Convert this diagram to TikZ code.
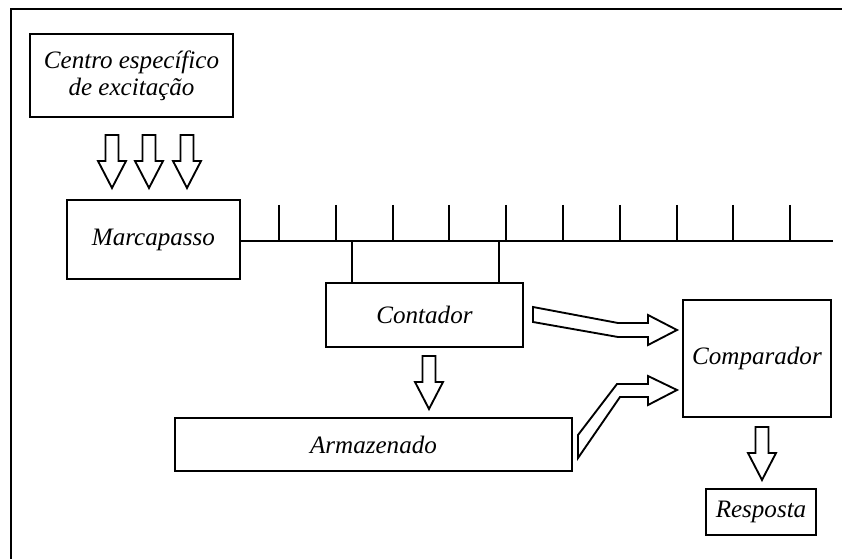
\documentclass[tikz,border=0pt]{standalone}
\usepackage{fontspec}
\setmainfont{Liberation Serif}
\tikzset{
  hollowdown/.pic={\draw[line width=1.4pt,fill=white]
    (-6.5,0) -- (6.5,0) -- (6.5,26) -- (14,26) -- (0,53) -- (-14,26) -- (-6.5,26) -- cycle;}
}
\begin{document}
\begin{tikzpicture}[x=.75pt,y=-.75pt,line width=1.4pt,
  every node/.style={font=\fontsize{18.8}{20}\selectfont\itshape,inner sep=0pt},
  blockbox/.style={draw,line width=1.4pt,align=center},
  hollow/.style={draw,line width=1.4pt,line join=miter,fill=white}]
  \path[use as bounding box] (0,0) rectangle (842,559);
  % frame, only top and left edge show
  \draw (11,559) -- (11,9) -- (842,9);
  \node[blockbox,minimum width=152.25pt,minimum height=62.25pt] (centro) at (131.5,75.5)
    {Centro específico\\de excitação};
  \node[blockbox,minimum width=129.75pt,minimum height=59.25pt] (marca) at (153.5,239.5) {Marcapasso};
  \node[blockbox,minimum width=147.75pt,minimum height=48pt] (cont) at (424.5,315) {Contador};
  \node[blockbox,minimum width=297.75pt,minimum height=39.75pt] (arma) at (373.5,444.5) {Armazenado};
  \node[blockbox,minimum width=111pt,minimum height=87.75pt] (comp) at (757,358.5) {Comparador};
  \node[blockbox,minimum width=82.5pt,minimum height=34.5pt] (resp) at (761,512) {Resposta};
  % pulses
  \coordinate (fim) at (833,241);
  \draw (marca.east |- fim) -- (fim);
  \foreach \tx in {279,336,393,449,506,563,620,677,733,790}
    \draw (\tx,205) -- (\tx,241);
  \coordinate (ga) at (352,241);
  \coordinate (gb) at (499,241);
  \draw (ga) -- (ga |- cont.north);
  \draw (gb) -- (gb |- cont.north);
  % arrows
  \foreach \ax in {112,149,187}
    \pic at (\ax,135) {hollowdown};
  \pic at (429,356) {hollowdown};
  \pic at (762,427) {hollowdown};
  \draw[hollow] (533,307) -- (618,323) -- (648,323) -- (648,315) -- (677,330)
    -- (648,345) -- (648,337) -- (618,337) -- (533,322) -- cycle;
  \draw[hollow] (578,435) -- (617,384) -- (648,384) -- (648,376) -- (677,390)
    -- (648,405) -- (648,397) -- (620,397) -- (578,458) -- cycle;
\end{tikzpicture}
\end{document}
